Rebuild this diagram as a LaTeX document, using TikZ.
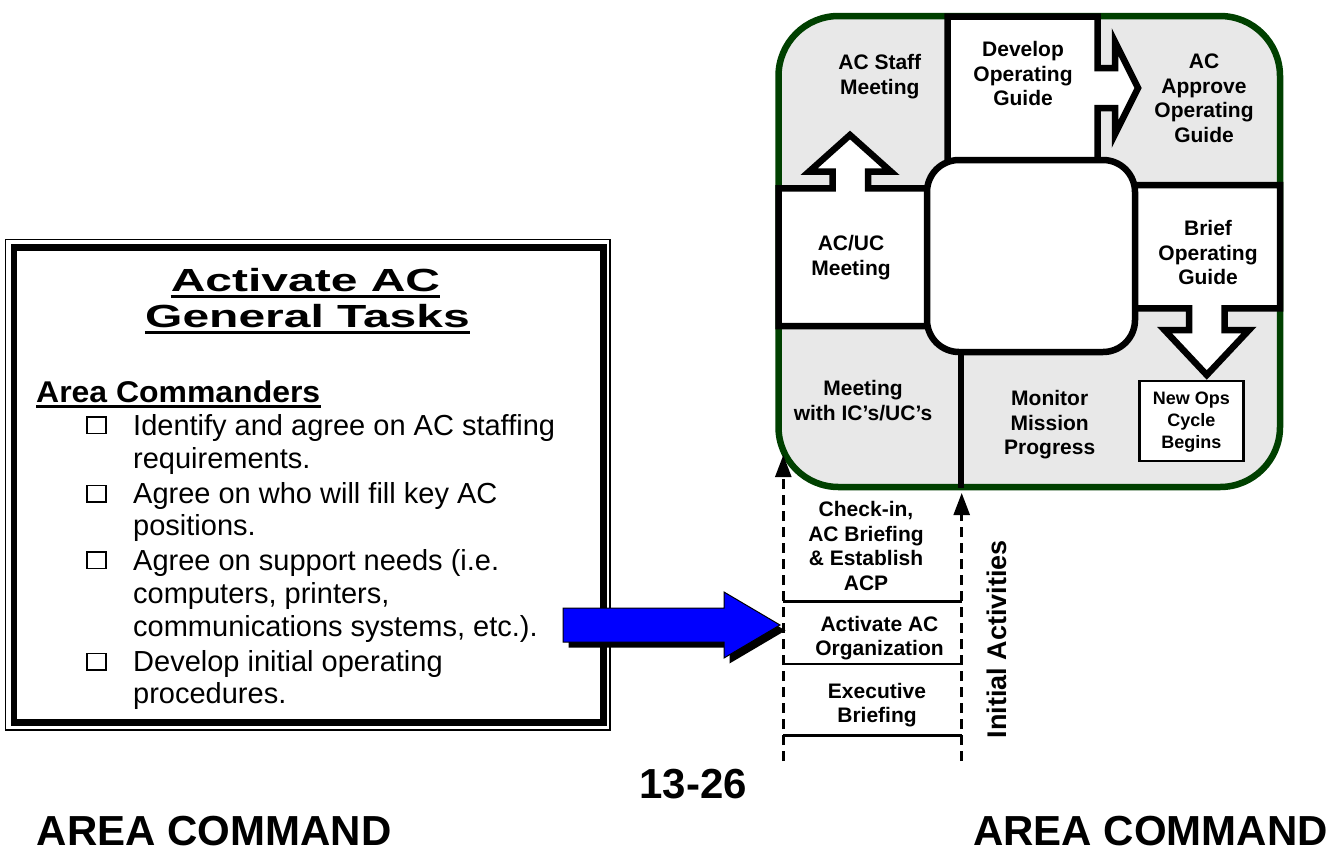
\documentclass[tikz,border=0pt]{standalone}
\usepackage{fontspec}
\setmainfont{Liberation Sans}
\usetikzlibrary{arrows.meta}
\definecolor{cyclegray}{RGB}{232,232,232}
\definecolor{rimgreen}{RGB}{0,64,0}
\definecolor{arrowblue}{RGB}{0,0,255}
\begin{document}
\begin{tikzpicture}[x=1pt,y=-1pt,line join=miter,
  cyc/.style={font=\fontsize{21}{24.5}\selectfont\bfseries, align=center, inner sep=0pt},
  smallcyc/.style={font=\fontsize{18}{22}\selectfont\bfseries, align=center, inner sep=0pt},
  itemtext/.style={font=\fontsize{29}{29}\selectfont, anchor=base west, inner sep=0pt},
  bigtext/.style={font=\fontsize{42}{42}\selectfont\bfseries, inner sep=0pt},
  thickblack/.style={draw=black, line width=6.5pt, fill=white},
  dashline/.style={line width=2.5pt, dash pattern=on 10pt off 6pt},
  sepline/.style={line width=2.5pt},
  chk/.style={draw=black, line width=1.5pt},
]
\useasboundingbox (0,0) rectangle (1342,847);
\fill[white] (0,0) rectangle (1342,847);

% ---------- left task box ----------
\draw[line width=1.3pt] (5.5,239.5) rectangle (610,730);
\draw[line width=6.5pt] (13.8,247.5) rectangle (603.5,722.5);

\node[anchor=base, inner sep=0pt] (t1) at (305.5,291) {\scalebox{1.5}[1]{\fontsize{32}{32}\selectfont\bfseries Activate AC}};
\draw[line width=3pt] ([yshift=-5.7pt]t1.base west) -- ([yshift=-5.7pt]t1.base east);
\node[anchor=base, inner sep=0pt] (t2) at (307.5,327) {\scalebox{1.5}[1]{\fontsize{32}{32}\selectfont\bfseries General Tasks}};
\draw[line width=3pt] ([yshift=-5.7pt]t2.base west) -- ([yshift=-5.7pt]t2.base east);

\node[anchor=base west, inner sep=0pt] (ac) at (36,402) {\scalebox{1.065}[1]{\fontsize{30}{30}\selectfont\bfseries Area Commanders}};
\draw[line width=3pt] ([yshift=-4.5pt]ac.base west) -- ([yshift=-4.5pt]ac.base east);

\draw[chk] (87,417) rectangle (106,433.5);
\node[itemtext] (i1a) at (133,435) {Identify and agree on AC staffing};
\node[itemtext] (i1b) at (133,468) {requirements.};
\draw[chk] (87,485.3) rectangle (106,501.8);
\node[itemtext] (i2a) at (133,503.3) {Agree on who will fill key AC};
\node[itemtext] (i2b) at (133,535.5) {positions.};
\draw[chk] (87,552) rectangle (106,568.5);
\node[itemtext] (i3a) at (133,570) {Agree on support needs (i.e.};
\node[itemtext] (i3b) at (133,603.3) {computers, printers,};
\node[itemtext] (i3c) at (133,636.7) {communications systems, etc.).};
\draw[chk] (87,653.7) rectangle (106,670.2);
\node[itemtext] (i4a) at (133,671.7) {Develop initial operating};
\node[itemtext] (i4b) at (133,703.3) {procedures.};

% ---------- blue arrow ----------
\fill[black] (568.5,613.5) -- (729.5,613.5) -- (729.5,597.5) -- (785.5,630.5) -- (729.5,663.5) -- (729.5,647.5) -- (568.5,647.5) -- cycle;
\draw[line width=1pt, fill=arrowblue] (563,608) -- (724,608) -- (724,592) -- (780,625) -- (724,658) -- (724,642) -- (563,642) -- cycle;

% ---------- planning cycle ----------
\draw[rimgreen, line width=6.5pt, fill=cyclegray, rounded corners=60pt] (778.5,16) rectangle (1280,487);

% AC/UC box with up arrow
\draw[thickblack] (940,326) -- (778.5,326) -- (778.5,188.3) -- (832.5,188.3) -- (832.5,171.7) -- (809,171.7) -- (850,135) -- (891,171.7) -- (868,171.7) -- (868,188.3) -- (940,188.3) -- cycle;
% Develop box with right arrow
\draw[thickblack] (947.5,175) -- (947.5,16.7) -- (1097.5,16.7) -- (1097.5,68) -- (1115,68) -- (1115,42) -- (1138,88) -- (1115,134) -- (1115,108) -- (1097.5,108) -- (1097.5,175) -- cycle;
% Brief box with down arrow
\draw[thickblack] (1120,185) -- (1280,185) -- (1280,308.3) -- (1224.5,308.3) -- (1224.5,330) -- (1249,330) -- (1206.75,375) -- (1164.5,330) -- (1189,330) -- (1189,308.3) -- (1120,308.3) -- cycle;
% line to bottom
\draw[line width=6.5pt] (961,340) -- (961,488);
% hub
\draw[thickblack, rounded corners=32pt] (927,160) rectangle (1135,352);
% new ops box
\draw[line width=2.7pt, fill=white] (1139.5,381) rectangle (1243.5,461);

\node[cyc] (staff) at (879.8,76.5) {AC Staff\\Meeting};
\node[cyc] (develop) at (1023,73.8) {Develop\\Operating\\Guide};
\node[cyc] (approve) at (1204,98.5) {AC\\Approve\\Operating\\Guide};
\node[cyc] (acuc) at (851,257.6) {AC/UC\\Meeting};
\node[cyc] (brief) at (1208,252.8) {Brief\\Operating\\Guide};
\node[cyc] (icuc) at (863,400.5) {Meeting\\with IC’s/UC’s};
\node[cyc] (monitor) at (1049.7,424.9) {Monitor\\Mission\\Progress};
\node[smallcyc] (newops) at (1191.3,422.2) {New Ops\\Cycle\\Begins};

% ---------- initial activities ----------
\coordinate (lbot) at (783.3,761);
\coordinate (ltop) at (783.3,455);
\coordinate (rbot) at (961.7,761);
\coordinate (rtop) at (961.7,493);
\draw[dashline, -{Triangle[length=22pt,width=16pt]}] (lbot) -- (ltop);
\draw[dashline, -{Triangle[length=22pt,width=16pt]}] (rbot) -- (rtop);
\draw[sepline] (783.3,601.7) -- (961.7,601.7);
\draw[sepline] (783.3,664) -- (961.7,664);
\draw[sepline] (783.3,735.7) -- (961.7,735.7);

\node[cyc] (checkin) at (866,546) {Check-in,\\AC Briefing\\\& Establish\\ACP};
\node[cyc] (activate) at (879.5,638.3) {Activate AC\\Organization};
\node[cyc] (exec) at (877,705) {Executive\\Briefing};
\node[rotate=90, font=\fontsize{27}{27}\selectfont\bfseries, inner sep=0pt] (initial) at (996.7,639.2) {Initial Activities};

% ---------- footer ----------
\node[bigtext, anchor=base] (page) at (693.3,798) {13-26};
\node[bigtext, anchor=base west] (areaL) at (36.7,845) {AREA COMMAND};
\node[bigtext, anchor=base west] (areaR) at (973,845) {AREA COMMAND};
\end{tikzpicture}
\end{document}
